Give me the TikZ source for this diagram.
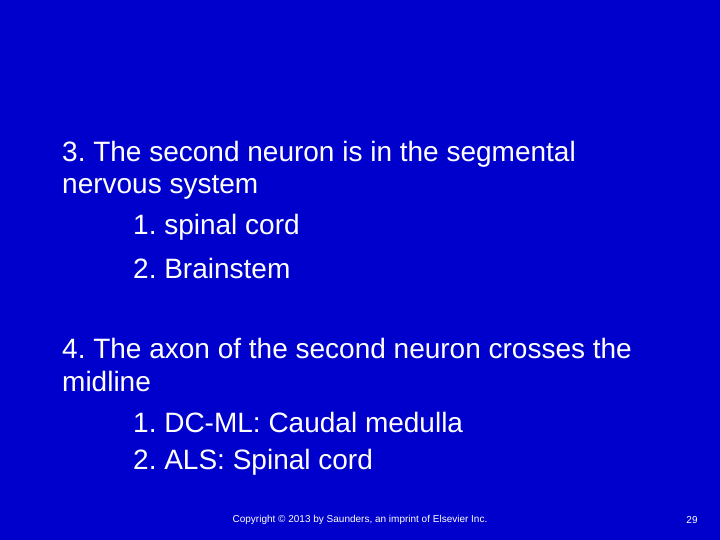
\documentclass[tikz,border=0pt]{standalone}
\usepackage{fontspec}
\setmainfont{Liberation Sans}
\frenchspacing
\definecolor{slide_blue}{RGB}{0, 0, 204}
\begin{document}
\begin{tikzpicture}[x=1pt, y=1pt,
    txt/.style={anchor=west, text=white, font=\fontsize{28}{32}\selectfont, inner sep=0pt},
    small/.style={text=white, font=\fontsize{10}{12}\selectfont, inner sep=0pt},
  ]
  \fill[slide_blue] (0,0) rectangle (720,540);

  \node[txt] (l1) at (62, 386) {3. The second neuron is in the segmental};
  \node[txt] (l2) at (62, 353) {nervous system};
  \node[txt] (l3) at (133, 313) {1. spinal cord};
  \node[txt] (l4) at (133, 272) {2. Brainstem};

  \node[txt] (l5) at (62, 192) {4. The axon of the second neuron crosses the};
  \node[txt] (l6) at (62, 159) {midline};
  \node[txt] (l7) at (133, 118) {1. DC-ML: Caudal medulla};
  \node[txt] (l8) at (133, 78) {2. ALS: Spinal cord};

  \node[small] (copy) at (360, 20) {Copyright © 2013 by Saunders, an imprint of Elsevier Inc.};
  \node[small] (page) at (692, 20) {29};
\end{tikzpicture}
\end{document}
